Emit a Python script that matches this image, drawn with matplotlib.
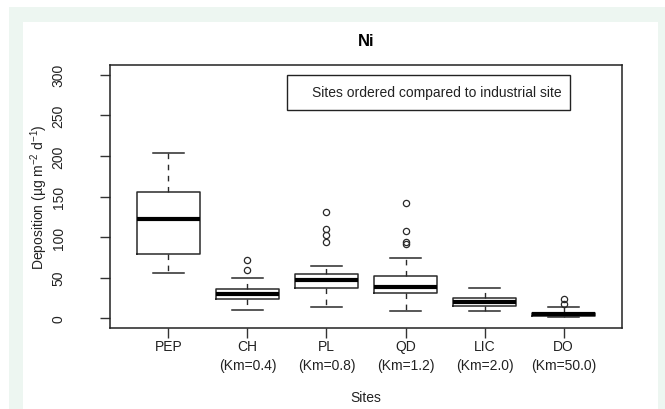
import matplotlib
matplotlib.use('Agg')
import numpy as np
import matplotlib.pyplot as plt
from matplotlib.patches import Rectangle

plt.rcParams['font.family'] = ['Liberation Sans', 'DejaVu Sans']
plt.rcParams['mathtext.default'] = 'regular'

# values
sites = ['PEP', 'CH\n(Km=0.4)', 'PL\n(Km=0.8)', 'QD\n(Km=1.2)', 'LIC\n(Km=2.0)', 'DO\n(Km=50.0)']
medians = [122, 30, 47.5, 38.5, 19.7, 5.4]
q1 = [78.6, 23.3, 37.3, 31.5, 15.6, 3.2]
q3 = [155, 36.5, 54, 52, 25.4, 7.0]
whislo = [55.7, 9.8, 13.5, 8.6, 8.6, 2.0]
whishi = [204, 49.6, 64.3, 74, 37.7, 13.5]
outliers = [[], [72, 59], [131.4, 109.7, 102, 94.5], [142, 107.3, 94.5, 91.7], [], [24, 17.2]]
yticks = [0, 50, 100, 150, 200, 250, 300]

fig = plt.figure(figsize=(6.65, 4.10), dpi=100)
fig.patch.set_facecolor('white')

# light green frame with white inner panel
fig.patches.append(Rectangle((9/665, 0), 1 - 9/665, 1 - 8/410, transform=fig.transFigure,
                             facecolor='#edf6f1', edgecolor='none', zorder=-2))
fig.patches.append(Rectangle((23/665, 0), (658 - 23)/665, 1 - 23/410, transform=fig.transFigure,
                             facecolor='white', edgecolor='none', zorder=-1))

ax = fig.add_axes([110/665, 1 - 329/410, (622 - 110)/665, (329 - 66)/410])
ax.set_zorder(1)
ax.set_facecolor('white')

stats = []
for i in range(len(sites)):
    stats.append(dict(med=medians[i], q1=q1[i], q3=q3[i], whislo=whislo[i],
                      whishi=whishi[i], fliers=outliers[i]))

pos = np.arange(1, len(sites) + 1)
lc = '#2a2a2a'
ax.bxp(stats, positions=pos, widths=0.8, capwidths=0.4, showfliers=True,
       boxprops=dict(color=lc, linewidth=1.1),
       medianprops=dict(color='black', linewidth=3, solid_capstyle='butt'),
       whiskerprops=dict(color=lc, linewidth=1.0, linestyle=(0, (4, 4))),
       capprops=dict(color=lc, linewidth=1.1),
       flierprops=dict(marker='o', markerfacecolor='none', markeredgecolor=lc,
                       markersize=4.5, markeredgewidth=0.9))

ax.set_xlim(0.26, 6.74)
ax.set_ylim(-12, 312)
ax.set_xticks(pos)
ax.set_xticklabels(sites, fontsize=10, linespacing=1.5, color='#222222')
ax.set_yticks(yticks)
ax.set_yticklabels([str(v) for v in yticks], fontsize=10, rotation=90, va='center', color='#222222')
ax.tick_params(axis='x', length=7.2, width=1, color='#333333', pad=0.5)
ax.tick_params(axis='y', length=7.2, width=1, color='#333333', pad=24.8)
for s in ax.spines.values():
    s.set_color('#222222')
    s.set_linewidth(1.1)

ax.set_title('Ni', fontsize=12, fontweight='bold', y=1 + (66 - 42)/263, pad=0, va='center')
ax.set_xlabel('Sites', fontsize=10, va='center', color='#222222')
ax.xaxis.set_label_coords(0.5, (329 - 398)/263)
ax.set_ylabel('Deposition (µg m$^{-2}$ d$^{-1}$)', fontsize=10, va='center', color='#222222')
ax.yaxis.set_label_coords((39 - 110)/512, 0.5)

# legend-like box
ax.add_patch(Rectangle(((287 - 110)/512, (329 - 111)/263), (570 - 287)/512, (111 - 76)/263,
                       transform=ax.transAxes, facecolor='white', edgecolor='#222222', linewidth=1.0))
ax.text((312 - 110)/512, (329 - 93.5)/263, 'Sites ordered compared to industrial site',
        transform=ax.transAxes, fontsize=10, va='center', ha='left', color='#222222')

plt.savefig('out.png', dpi=100)
